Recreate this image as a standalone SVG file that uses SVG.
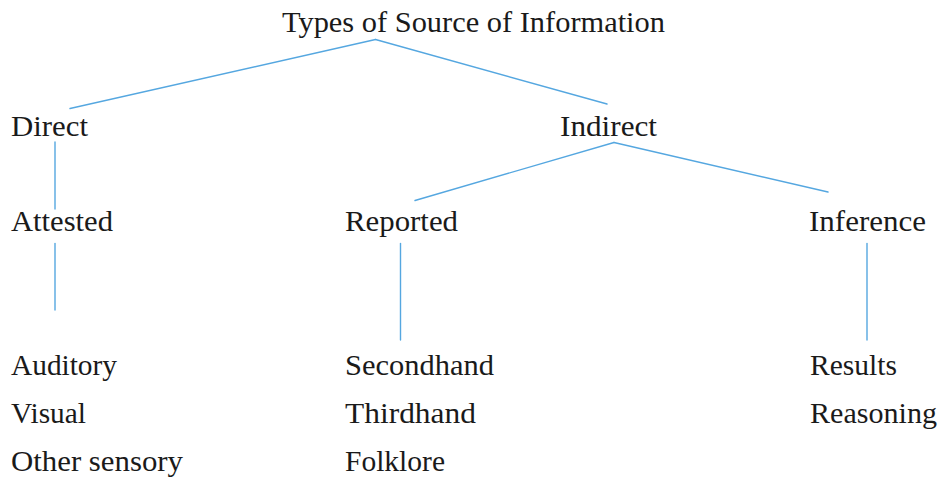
<svg xmlns="http://www.w3.org/2000/svg" width="939" height="477" viewBox="0 0 939 477">
<style>
text{font-family:"Liberation Serif","Times New Roman",Times,serif;font-size:29px;fill:#1a1a1a}
.c line{stroke:#55a7e0;stroke-width:1.4;stroke-linecap:round}
</style>
<rect width="939" height="477" fill="#fff"/>
<g class="c" id="connectors">
<line x1="375.5" y1="39.5" x2="70" y2="108.5"/>
<line x1="375.5" y1="39.5" x2="607" y2="104"/>
<line x1="55" y1="142" x2="55" y2="209"/>
<line x1="614" y1="142.5" x2="415" y2="200.5"/>
<line x1="614" y1="142.5" x2="828" y2="192"/>
<line x1="55" y1="243.5" x2="55" y2="310"/>
<line x1="400.5" y1="243.5" x2="400.5" y2="340"/>
<line x1="867" y1="243.5" x2="867" y2="340"/>
</g>
<g id="root"><text x="282" y="32" textLength="383" lengthAdjust="spacingAndGlyphs">Types of Source of Information</text></g>
<g id="direct"><text x="11" y="136" textLength="77" lengthAdjust="spacingAndGlyphs">Direct</text></g>
<g id="indirect"><text x="560" y="136" textLength="97" lengthAdjust="spacingAndGlyphs">Indirect</text></g>
<g id="attested"><text x="11" y="231" textLength="102" lengthAdjust="spacingAndGlyphs">Attested</text></g>
<g id="reported"><text x="345" y="231" textLength="113" lengthAdjust="spacingAndGlyphs">Reported</text></g>
<g id="inference"><text x="809" y="231" textLength="117" lengthAdjust="spacingAndGlyphs">Inference</text></g>
<g id="attested-list">
<text x="11" y="375" textLength="106" lengthAdjust="spacingAndGlyphs">Auditory</text>
<text x="11" y="423" textLength="75" lengthAdjust="spacingAndGlyphs">Visual</text>
<text x="11" y="471" textLength="172" lengthAdjust="spacingAndGlyphs">Other sensory</text>
</g>
<g id="reported-list">
<text x="345" y="375" textLength="149" lengthAdjust="spacingAndGlyphs">Secondhand</text>
<text x="345" y="423" textLength="131" lengthAdjust="spacingAndGlyphs">Thirdhand</text>
<text x="345" y="471" textLength="100" lengthAdjust="spacingAndGlyphs">Folklore</text>
</g>
<g id="inference-list">
<text x="810" y="375" textLength="87" lengthAdjust="spacingAndGlyphs">Results</text>
<text x="810" y="423" textLength="127" lengthAdjust="spacingAndGlyphs">Reasoning</text>
</g>
</svg>
